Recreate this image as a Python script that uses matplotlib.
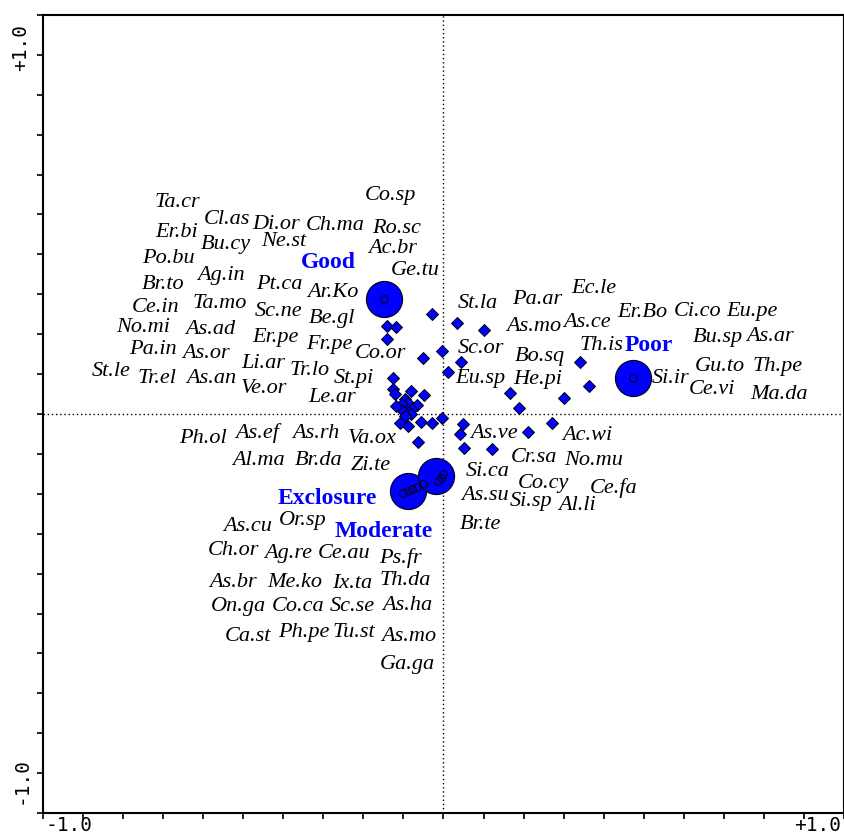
import matplotlib
matplotlib.use("Agg")
import matplotlib.pyplot as plt
import numpy as np

# species labels (position of the label = species score)
sp_names = [
    "Ta.cr", "Cl.as", "Di.or", "Ch.ma", "Co.sp", "Ro.sc", "Er.bi", "Bu.cy", "Ne.st", "Ac.br",
    "Po.bu", "Ag.in", "Pt.ca", "Ge.tu", "Br.to", "Ar.Ko", "Ce.in", "Ta.mo", "Sc.ne", "Be.gl",
    "No.mi", "As.ad", "Er.pe", "Fr.pe", "Co.or", "Pa.in", "As.or", "Li.ar", "Tr.lo", "St.pi",
    "St.le", "Tr.el", "As.an", "Ve.or", "Le.ar",
    "St.la", "Pa.ar", "Ec.le", "Er.Bo", "Ci.co", "Eu.pe", "As.mo", "As.ce", "Bu.sp", "As.ar",
    "Sc.or", "Bo.sq", "Th.is", "Gu.to", "Th.pe", "Eu.sp", "He.pi", "Si.ir", "Ce.vi", "Ma.da",
    "Ph.ol", "As.ef", "As.rh", "Va.ox", "Al.ma", "Br.da", "Zi.te", "As.cu", "Or.sp", "Ch.or",
    "Ag.re", "Ce.au", "Ps.fr", "As.br", "Me.ko", "Ix.ta", "Th.da", "On.ga", "Co.ca", "Sc.se",
    "As.ha", "Ca.st", "Ph.pe", "Tu.st", "As.mo", "Ga.ga",
    "As.ve", "Ac.wi", "Cr.sa", "No.mu", "Si.ca", "Co.cy", "Ce.fa", "As.su", "Si.sp", "Al.li",
    "Br.te",
]
sp_x = [
    -0.711, -0.578, -0.447, -0.289, -0.142, -0.126, -0.714, -0.583, -0.428, -0.136,
    -0.735, -0.596, -0.439, -0.075, -0.751, -0.297, -0.770, -0.599, -0.441, -0.297,
    -0.802, -0.623, -0.449, -0.305, -0.168, -0.778, -0.636, -0.481, -0.358, -0.241,
    -0.890, -0.765, -0.620, -0.479, -0.299,
    0.091, 0.251, 0.401, 0.532, 0.679, 0.826, 0.241, 0.385, 0.733, 0.872,
    0.099, 0.259, 0.422, 0.738, 0.893, 0.099, 0.251, 0.607, 0.719, 0.896,
    -0.642, -0.497, -0.342, -0.190, -0.495, -0.334, -0.195, -0.524, -0.377, -0.561,
    -0.414, -0.267, -0.115, -0.564, -0.398, -0.243, -0.102, -0.548, -0.390, -0.243,
    -0.096, -0.524, -0.374, -0.241, -0.094, -0.096,
    0.134, 0.385, 0.241, 0.401, 0.118, 0.267, 0.455, 0.112, 0.233, 0.358,
    0.099,
]
sp_y = [
    0.577, 0.530, 0.519, 0.516, 0.596, 0.508, 0.495, 0.462, 0.470, 0.451,
    0.426, 0.377, 0.355, 0.391, 0.355, 0.331, 0.292, 0.303, 0.281, 0.262,
    0.235, 0.232, 0.208, 0.191, 0.164, 0.175, 0.164, 0.139, 0.120, 0.098,
    0.115, 0.096, 0.096, 0.071, 0.044,
    0.303, 0.314, 0.342, 0.276, 0.279, 0.279, 0.240, 0.251, 0.208, 0.213,
    0.178, 0.156, 0.186, 0.131, 0.131, 0.096, 0.093, 0.096, 0.066, 0.052,
    -0.068, -0.052, -0.052, -0.066, -0.128, -0.126, -0.142, -0.306, -0.292, -0.374,
    -0.380, -0.380, -0.393, -0.459, -0.459, -0.462, -0.454, -0.527, -0.527, -0.525,
    -0.522, -0.607, -0.598, -0.598, -0.609, -0.683,
    -0.052, -0.060, -0.120, -0.128, -0.156, -0.191, -0.202, -0.224, -0.238, -0.251,
    -0.301,
]

# species shown only as symbols
dot_x = [
    -0.032, -0.152, -0.126, -0.150, 0.035, 0.107, -0.005, -0.056, 0.048, 0.013,
    -0.134, -0.134, -0.131, -0.086, -0.053, -0.104, -0.094, -0.110, -0.070, -0.128,
    -0.083, -0.107, -0.088, -0.102, -0.115, -0.094, -0.059, -0.032, -0.003, -0.067,
    0.051, 0.045, 0.056, 0.131, 0.201, 0.179, 0.225, 0.289, 0.366, 0.390, 0.321,
]
dot_y = [
    0.273, 0.240, 0.238, 0.205, 0.249, 0.230, 0.172, 0.153, 0.142, 0.115,
    0.098, 0.068, 0.055, 0.063, 0.052, 0.041, 0.030, 0.027, 0.025, 0.022,
    0.014, 0.008, 0.000, -0.005, -0.025, -0.033, -0.022, -0.025, -0.011, -0.077,
    -0.027, -0.055, -0.093, -0.096, 0.016, 0.057, -0.049, -0.025, 0.142, 0.077, 0.044,
]

# nominal environmental variables (centroids) and their labels
env_names = ["Good", "Poor", "Exclosure", "Moderate"]
env_x = [-0.160, 0.508, -0.096, -0.021]
env_y = [0.314, 0.098, -0.210, -0.169]
env_lab_x = [-0.307, 0.548, -0.310, -0.160]
env_lab_y = [0.413, 0.186, -0.230, -0.320]

# samples
smp_x = [-0.160, 0.508, -0.107, -0.096, -0.083, -0.070, -0.056, -0.016, -0.008, 0.000]
smp_y = [0.314, 0.098, -0.216, -0.210, -0.205, -0.199, -0.191, -0.183, -0.175, -0.164]

W, H = 845, 839
fig = plt.figure(figsize=(W / 100, H / 100), dpi=100)
ax = fig.add_axes([43 / W, (H - 813) / H, (844 - 43) / W, (813 - 15) / H])

xlim, ylim = 1.071, 1.09
ax.set_xlim(-xlim, xlim)
ax.set_ylim(-ylim, ylim)

ax.axhline(0, color="black", lw=1, ls=(0, (1, 2)), zorder=1)
ax.axvline(0, color="black", lw=1, ls=(0, (1, 2)), zorder=1)

ax.plot(dot_x, dot_y, ls="none", marker="D", ms=6.5, mfc="#0000ff", mec="black", mew=0.7, zorder=3)
ax.plot(env_x, env_y, ls="none", marker="o", ms=26, mfc="#0000ff", mec="black", mew=0.8, zorder=4)
ax.plot(smp_x, smp_y, ls="none", marker="o", ms=5.5, mfc="none", mec="black", mew=0.7, zorder=5)

for name, x, y in zip(sp_names, sp_x, sp_y):
    ax.text(x, y, name, ha="center", va="center", fontsize=16, style="italic",
            family="Liberation Serif", color="black", zorder=6)

for name, x, y in zip(env_names, env_lab_x, env_lab_y):
    ax.text(x, y, name, ha="center", va="center", fontsize=17, weight="bold",
            family="Liberation Serif", color="#0000ff", zorder=6)

# axes frame and ticks
for s in ax.spines.values():
    s.set_linewidth(1.5)
ax.set_xticks([-1, 1], labels=["-1.0", "+1.0"])
ax.set_yticks([-1, 1], labels=["-1.0", "+1.0"])
ax.set_xticks(np.linspace(-xlim, xlim, 21), minor=True)
ax.set_yticks(np.linspace(-ylim, ylim, 21), minor=True)
ax.tick_params(which="major", length=0, labelsize=14)
ax.tick_params(axis="x", which="major", pad=2)
ax.tick_params(axis="y", which="major", pad=9)
ax.tick_params(which="minor", length=4, width=1.2, direction="out")
for lab in ax.get_xticklabels() + ax.get_yticklabels():
    lab.set_family("DejaVu Sans Mono")
for lab in ax.get_yticklabels():
    lab.set_rotation(90)
    lab.set_va("center")

fig.savefig("out.png", dpi=100)
